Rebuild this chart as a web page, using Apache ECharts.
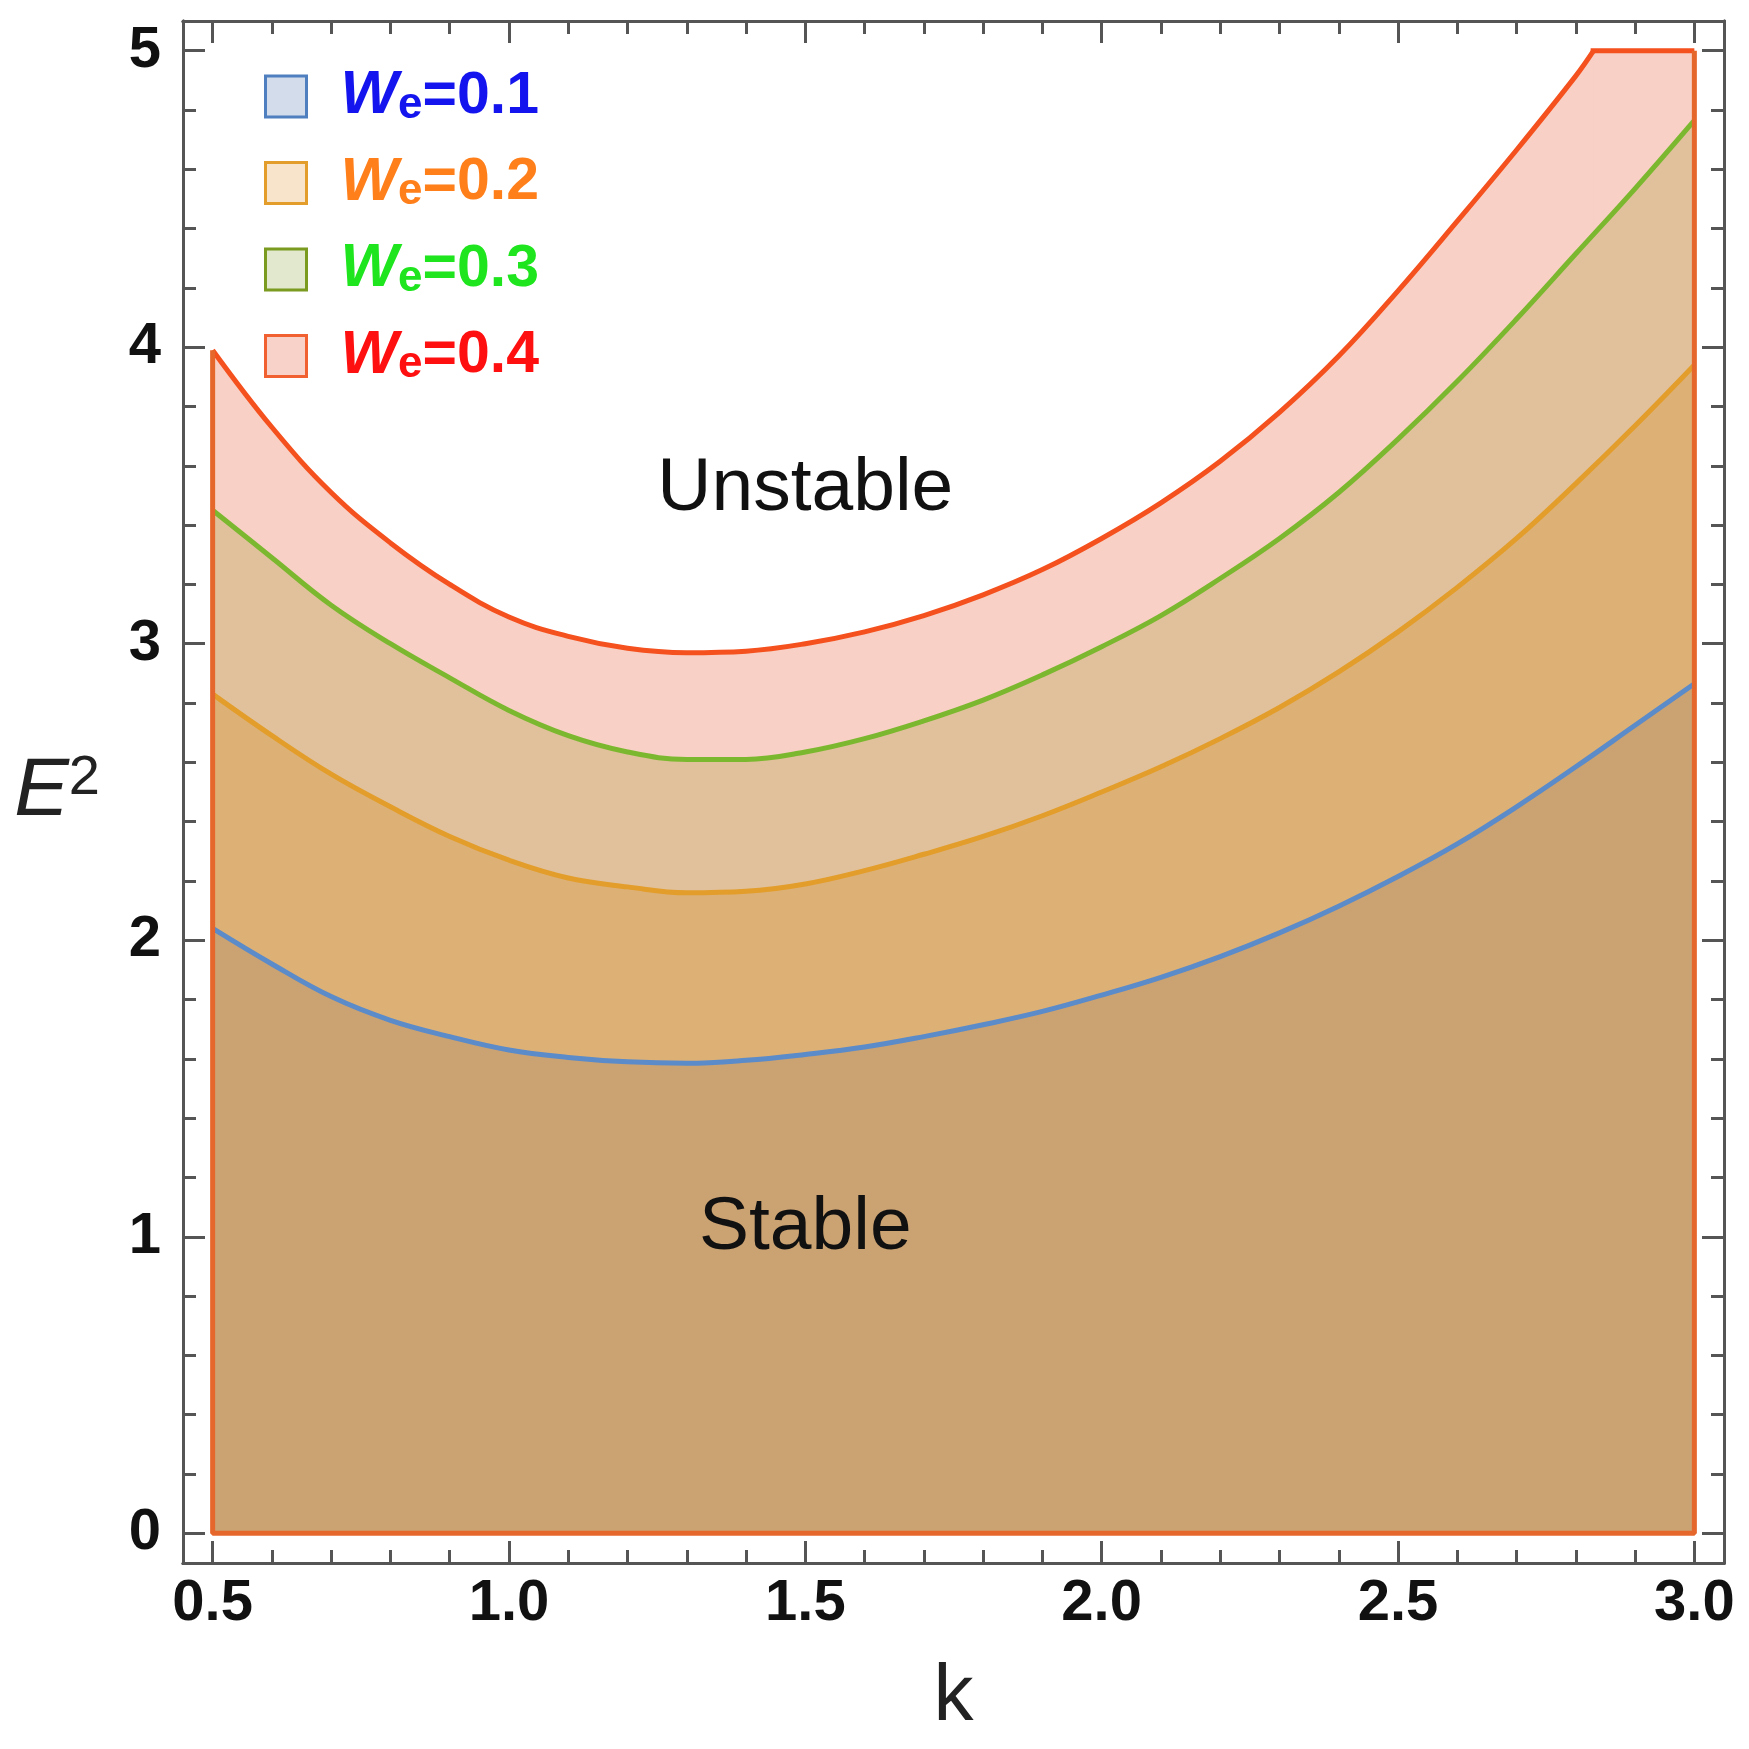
<!DOCTYPE html>
<html lang="en">
<head>
<meta charset="UTF-8">
<title>E2 vs k</title>
<script src="https://cdn.jsdelivr.net/npm/echarts@6/dist/echarts.min.js"></script>
<style>html,body{margin:0;padding:0;background:#fff}</style>
</head>
<body>
<div id="main" style="width:1749px;height:1749px"></div>
<script>
// values
let kVals = [0.5, 0.6, 0.7, 0.8, 0.9, 1.0, 1.1, 1.2, 1.3, 1.4, 1.5, 1.6, 1.7, 1.8, 1.9, 2.0, 2.1, 2.2, 2.3, 2.4, 2.5, 2.6, 2.7, 2.8, 2.9, 3.0];
let e01 = [2.04, 1.92, 1.81, 1.73, 1.675, 1.63, 1.605, 1.59, 1.585, 1.595, 1.615, 1.64, 1.675, 1.715, 1.76, 1.815, 1.875, 1.945, 2.025, 2.115, 2.215, 2.325, 2.45, 2.585, 2.725, 2.865];
let e02 = [2.83, 2.69, 2.56, 2.45, 2.35, 2.27, 2.21, 2.18, 2.16, 2.165, 2.19, 2.235, 2.29, 2.35, 2.42, 2.50, 2.585, 2.68, 2.785, 2.905, 3.04, 3.19, 3.355, 3.54, 3.735, 3.94];
let e03 = [3.45, 3.29, 3.13, 3.00, 2.885, 2.775, 2.69, 2.635, 2.61, 2.61, 2.635, 2.68, 2.74, 2.81, 2.895, 2.99, 3.095, 3.22, 3.355, 3.51, 3.69, 3.885, 4.095, 4.315, 4.535, 4.765];
// the widest region is cut off at E^2 = 5
let kTop = [0.5, 0.6, 0.7, 0.8, 0.9, 1.0, 1.1, 1.2, 1.3, 1.4, 1.5, 1.6, 1.7, 1.8, 1.9, 2.0, 2.1, 2.2, 2.3, 2.4, 2.5, 2.6, 2.7, 2.8, 2.83];
let e04 = [3.99, 3.73, 3.51, 3.34, 3.20, 3.09, 3.025, 2.985, 2.97, 2.975, 3.00, 3.04, 3.095, 3.165, 3.25, 3.355, 3.475, 3.615, 3.78, 3.97, 4.19, 4.425, 4.665, 4.915, 5.0];
let kCap = [2.825, 3.0];
let eCap = [5.0, 5.0];

let seriesNames = ['We=0.1', 'We=0.2', 'We=0.3', 'We=0.4'];

let xMajor = [0.5, 1.0, 1.5, 2.0, 2.5, 3.0];
let xMinor = [0.6, 0.7, 0.8, 0.9, 1.1, 1.2, 1.3, 1.4, 1.6, 1.7, 1.8, 1.9, 2.1, 2.2, 2.3, 2.4, 2.6, 2.7, 2.8, 2.9];
let yMajor = [0, 1, 2, 3, 4, 5];
let yMinor = [0.2, 0.4, 0.6, 0.8, 1.2, 1.4, 1.6, 1.8, 2.2, 2.4, 2.6, 2.8, 3.2, 3.4, 3.6, 3.8, 4.2, 4.4, 4.6, 4.8];

let noteNames = ['Unstable', 'Stable'];
let noteK = [1.5, 1.5];
let noteE = [3.52, 1.03];

// styles
let lineColors = ['#5b8bc9', '#e39d2a', '#7cb82f', '#f4511e'];
let areaColors = ['#cba272', '#ddb076', '#e0c19c', '#f8d0c5'];
let legendFill = ['#d2dcea', '#f8e3cb', '#e1e8cd', '#f8d2c8'];
let legendBorder = ['#4f7fbf', '#e39d2a', '#7a9a20', '#f06030'];
let legendText = ['#1414ee', '#ff7f1a', '#1ee51e', '#ff1010'];
let frameColor = '#555555';
let edgeColor = '#e6672c';
let font = "'Liberation Sans', Arial, sans-serif";

let myChart = echarts.init(document.getElementById('main'));

function pairs(xs, ys) {
    return xs.map(function (x, j) { return [x, ys[j]]; });
}

function xAxisCfg(pos, ticks, len, labels) {
    return {
        type: 'value', position: pos, min: 0.45, max: 3.05,
        axisLine: { show: true, onZero: false, lineStyle: { color: frameColor, width: 3 } },
        axisTick: { show: true, inside: true, length: len, customValues: ticks, lineStyle: { color: frameColor, width: 3 } },
        axisLabel: labels ? {
            show: true, customValues: ticks, margin: 12,
            fontSize: 58, fontWeight: 'bold', color: '#111', fontFamily: font,
            formatter: function (v) { return v.toFixed(1); }
        } : { show: false },
        splitLine: { show: false }
    };
}
function yAxisCfg(pos, ticks, len, labels) {
    return {
        type: 'value', position: pos, min: -0.1, max: 5.1,
        axisLine: { show: true, onZero: false, lineStyle: { color: frameColor, width: 3 } },
        axisTick: { show: true, inside: true, length: len, customValues: ticks, lineStyle: { color: frameColor, width: 3 } },
        axisLabel: labels ? {
            show: true, customValues: ticks, margin: 22,
            fontSize: 58, fontWeight: 'bold', color: '#111', fontFamily: font,
            formatter: function (v) { return String(v); }
        } : { show: false },
        splitLine: { show: false }
    };
}

let xAxes = [xAxisCfg('bottom', xMajor, 22, true), xAxisCfg('bottom', xMinor, 13, false),
             xAxisCfg('top', xMajor, 22, false), xAxisCfg('top', xMinor, 13, false)];
let yAxes = [yAxisCfg('left', yMajor, 22, true), yAxisCfg('left', yMinor, 13, false),
             yAxisCfg('right', yMajor, 22, false), yAxisCfg('right', yMinor, 13, false)];

xAxes[0].name = 'k';
xAxes[0].nameLocation = 'middle';
xAxes[0].nameGap = 95;
xAxes[0].nameTextStyle = { fontSize: 80, color: '#222', fontFamily: font };

yAxes[0].name = '{e|E}{p|2}';
yAxes[0].nameLocation = 'middle';
yAxes[0].nameRotate = 0;
yAxes[0].nameGap = 83;
yAxes[0].nameTextStyle = {
    rich: {
        e: { fontSize: 82, fontStyle: 'italic', color: '#222', fontFamily: font, lineHeight: 82 },
        p: { fontSize: 56, color: '#222', fontFamily: font, lineHeight: 24, verticalAlign: 'top' }
    }
};

function areaSeries(name, data, i, smooth) {
    return {
        name: name,
        type: 'line',
        data: data,
        showSymbol: false,
        smooth: smooth,
        lineStyle: { color: lineColors[i], width: 5 },
        itemStyle: { color: lineColors[i] },
        areaStyle: { color: areaColors[i], opacity: 1 },
        silent: true,
        animation: false
    };
}

// back to front: 0.4 first, 0.1 last
let seriesConfig = [
    areaSeries(seriesNames[3], pairs(kCap, eCap), 3, false),
    areaSeries(seriesNames[3], pairs(kTop, e04), 3, 0.4),
    areaSeries(seriesNames[2], pairs(kVals, e03), 2, 0.4),
    areaSeries(seriesNames[1], pairs(kVals, e02), 1, 0.4),
    areaSeries(seriesNames[0], pairs(kVals, e01), 0, 0.4)
];

// outer edge of the widest region: sides and base
let kFirst = kTop[0], kLast = kCap[kCap.length - 1];
seriesConfig.push({
    name: 'edge',
    type: 'line',
    data: [[kFirst, e04[0]], [kFirst, 0], [kLast, 0], [kLast, eCap[eCap.length - 1]]],
    showSymbol: false,
    lineStyle: { color: edgeColor, width: 5 },
    silent: true,
    animation: false,
    z: 3
});

seriesConfig.push({
    name: 'notes',
    type: 'scatter',
    symbolSize: 0,
    itemStyle: { opacity: 1 },
    data: noteNames.map(function (n, j) { return { name: n, value: [noteK[j], noteE[j]] }; }),
    label: {
        show: true, position: 'inside', formatter: '{b}', opacity: 1,
        fontSize: 75, color: '#111', textBorderWidth: 0, fontFamily: font
    },
    silent: true,
    animation: false,
    z: 4
});

let richLegend = {};
legendText.forEach(function (c, i) {
    richLegend['w' + i] = { fontSize: 61, fontWeight: 'bold', fontStyle: 'italic', color: c, fontFamily: font, lineHeight: 62, padding: [0, 0, 0, 29] };
    richLegend['s' + i] = { fontSize: 44, fontWeight: 'bold', color: c, fontFamily: font, lineHeight: 34, verticalAlign: 'bottom' };
    richLegend['n' + i] = { fontSize: 59, fontWeight: 'bold', color: c, fontFamily: font, lineHeight: 62 };
});

myChart.setOption({
    animation: false,
    backgroundColor: '#fff',
    grid: { left: 183, right: 25, top: 21, bottom: 186 },
    xAxis: xAxes,
    yAxis: yAxes,
    legend: {
        left: 264,
        top: 66,
        padding: 0,
        orient: 'vertical',
        itemWidth: 41,
        itemHeight: 41,
        itemGap: 25,
        selectedMode: false,
        data: seriesNames.map(function (n, i) {
            return {
                name: n,
                icon: 'rect',
                itemStyle: { color: legendFill[i], borderColor: legendBorder[i], borderWidth: 3 }
            };
        }),
        formatter: function (name) {
            let i = seriesNames.indexOf(name);
            return '{w' + i + '|W}{s' + i + '|e}{n' + i + '|' + name.slice(2) + '}';
        },
        textStyle: { rich: richLegend }
    },
    series: seriesConfig
});
</script>
</body>
</html>
